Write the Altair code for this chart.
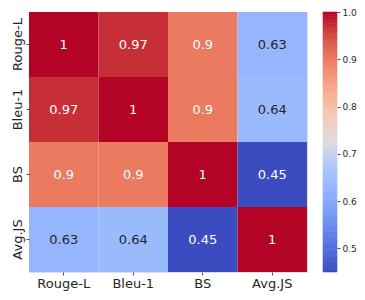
import altair as alt
import pandas as pd

labels = ["Rouge-L", "Bleu-1", "BS", "Avg.JS"]
matrix = [
    [1.00, 0.97, 0.90, 0.63],
    [0.97, 1.00, 0.90, 0.64],
    [0.90, 0.90, 1.00, 0.45],
    [0.63, 0.64, 0.45, 1.00],
]
vmin, vmax = 0.45, 1.0
cbar_ticks = [0.5, 0.6, 0.7, 0.8, 0.9, 1.0]
coolwarm = ["#3b4cc0", "#5470de", "#6f92f3", "#8db0fe", "#aac7fd", "#dddcdc",
            "#f2cbb7", "#f7ac8e", "#ee8468", "#d65244", "#b40426"]

rows = []
for i, r in enumerate(labels):
    for j, c in enumerate(labels):
        v = matrix[i][j]
        rows.append({"row": r, "col": c, "value": v, "label": f"{v:g}"})
df = pd.DataFrame(rows)

n = len(coolwarm)
dom = [vmin + (vmax - vmin) * k / (n - 1) for k in range(n)]
color_scale = alt.Scale(domain=dom, range=coolwarm, clamp=True, interpolate="rgb")

FONT = "DejaVu Sans"
INK = "#262626"
W, H = 278, 260
PAD_L, PAD_T, PAD_B = 21, 4, 20
GAP, CBW = 16, 14
CB_X0 = W + GAP
CB_X1 = CB_X0 + CBW

xax = alt.Axis(labelAngle=0, labelFontSize=13, labelFont=FONT,
               labelColor=INK, tickSize=3, tickColor=INK, tickWidth=0.8,
               domain=False, labelPadding=2)
yax = alt.Axis(labelAngle=-90, labelFontSize=13, labelFont=FONT,
               labelColor=INK, tickSize=3, tickColor=INK, tickWidth=0.8,
               domain=False, labelPadding=2, labelAlign="center",
               labelBaseline="bottom")

heat = alt.Chart(df).mark_rect().encode(
    x=alt.X("col:N", sort=labels, title=None, axis=xax),
    y=alt.Y("row:N", sort=labels, title=None, axis=yax),
    color=alt.Color("value:Q", scale=color_scale, legend=None),
)
text = alt.Chart(df).mark_text(fontSize=13, font=FONT).encode(
    x=alt.X("col:N", sort=labels),
    y=alt.Y("row:N", sort=labels),
    text="label:N",
    color=alt.condition(
        (alt.datum.value >= 0.85) | (alt.datum.value <= 0.5),
        alt.value("white"), alt.value(INK)),
)
grid = alt.layer(heat, text)

# colorbar
steps = 110
cb = pd.DataFrame({
    "lo": [vmin + (vmax - vmin) * k / steps for k in range(steps)],
    "hi": [vmin + (vmax - vmin) * (k + 1) / steps for k in range(steps)],
})
cb["mid"] = (cb["lo"] + cb["hi"]) / 2
cbar = alt.Chart(cb).mark_rect(strokeWidth=0.6).encode(
    y=alt.Y("lo:Q", scale=alt.Scale(domain=[vmin, vmax], nice=False, zero=False),
            title=None,
            axis=alt.Axis(orient="right", values=cbar_ticks, format=".1f",
                          labelFontSize=9, labelFont=FONT, labelColor=INK,
                          tickSize=3, tickColor=INK, tickWidth=0.8, domain=False,
                          grid=False, labelPadding=2, offset=CB_X1 - W)),
    y2="hi:Q",
    x=alt.value(CB_X0), x2=alt.value(CB_X1),
    color=alt.Color("mid:Q", scale=color_scale, legend=None),
    stroke=alt.Color("mid:Q", scale=color_scale, legend=None),
)

chart = alt.layer(grid, cbar).resolve_scale(
    y="independent"
).properties(
    width=W, height=H,
    autosize=alt.AutoSizeParams(type="none"),
    padding={"left": PAD_L, "top": PAD_T, "right": 349 - PAD_L - W,
             "bottom": PAD_B},
).configure_view(stroke=None).configure(background="white")

chart.save("out.html", embed_options={"renderer": "svg", "actions": False})
